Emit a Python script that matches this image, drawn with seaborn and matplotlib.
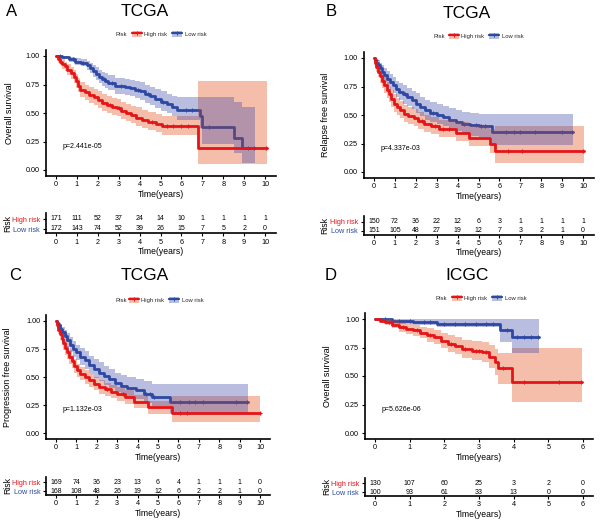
import numpy as np
import matplotlib
matplotlib.use("Agg")
import matplotlib.pyplot as plt
from matplotlib.patches import Patch
from matplotlib.lines import Line2D
import seaborn as sns

sns.set_theme(style="ticks")
plt.rcParams['font.family'] = ['Liberation Sans', 'DejaVu Sans']

W, H = 600, 522
RED = "#E61419"
BLUE = "#284BA0"
RED_FILL = "#E2450C"
BLUE_FILL = "#3745A9"

# ---------------- data ----------------
# Panel A: TCGA overall survival
a_high_t = [0, 0.08, 0.18, 0.3, 0.43, 0.55, 0.7, 0.85, 0.95, 1.05, 1.15, 1.4, 1.6, 1.8, 2.0,
            2.2, 2.45, 2.7, 2.9, 3.1, 3.35, 3.6, 3.85, 4.1, 4.4, 4.8, 5.06, 6.8]
a_high_s = [1.0, 0.97, 0.95, 0.93, 0.91, 0.88, 0.85, 0.82, 0.78, 0.74, 0.70, 0.68, 0.66, 0.64, 0.61,
            0.59, 0.57, 0.55, 0.54, 0.52, 0.50, 0.48, 0.46, 0.44, 0.42, 0.40, 0.385, 0.19]
a_high_up = [1.0, 1.0, 0.98, 0.97, 0.95, 0.93, 0.90, 0.88, 0.84, 0.81, 0.77, 0.75, 0.73, 0.71, 0.69,
             0.67, 0.65, 0.63, 0.62, 0.60, 0.58, 0.56, 0.55, 0.53, 0.51, 0.49, 0.47, 0.78]
a_high_lo = [1.0, 0.94, 0.92, 0.89, 0.87, 0.83, 0.80, 0.76, 0.72, 0.68, 0.64, 0.61, 0.59, 0.57, 0.54,
             0.52, 0.50, 0.48, 0.47, 0.45, 0.43, 0.41, 0.39, 0.37, 0.35, 0.33, 0.31, 0.05]
a_high_end = 10.08
a_high_cens = [2.6, 3.0, 4.6, 5.3, 5.6, 6.0, 6.3, 10.05]
a_low_t = [0, 0.3, 0.6, 0.9, 1.2, 1.5, 1.62, 1.75, 1.9, 2.05, 2.2, 2.35, 2.5, 2.8, 3.3, 3.55, 3.8,
           4.0, 4.25, 4.5, 4.75, 5.0, 5.3, 5.55, 5.8, 6.9, 7.0, 8.5, 8.9]
a_low_s = [1.0, 0.99, 0.97, 0.95, 0.94, 0.92, 0.895, 0.87, 0.845, 0.82, 0.80, 0.78, 0.76, 0.74, 0.73,
           0.72, 0.705, 0.69, 0.67, 0.65, 0.62, 0.60, 0.58, 0.555, 0.53, 0.47, 0.375, 0.28, 0.19]
a_low_up = [1.0, 1.0, 0.99, 0.98, 0.97, 0.96, 0.94, 0.92, 0.90, 0.88, 0.86, 0.85, 0.83, 0.81, 0.80,
            0.79, 0.78, 0.77, 0.75, 0.73, 0.71, 0.69, 0.67, 0.65, 0.64, 0.64, 0.64, 0.60, 0.55]
a_low_lo = [1.0, 0.98, 0.95, 0.92, 0.91, 0.88, 0.85, 0.82, 0.79, 0.76, 0.74, 0.72, 0.70, 0.67, 0.66,
            0.65, 0.63, 0.61, 0.59, 0.57, 0.54, 0.52, 0.50, 0.47, 0.44, 0.37, 0.23, 0.15, 0.06]
a_low_end = 9.5
a_low_cens = [0.2, 0.8, 1.3, 2.3, 2.7, 3.1, 3.9, 4.4, 5.1, 6.2, 6.5, 7.3, 9.2, 9.45]
a_risk_high = [171, 111, 52, 37, 24, 14, 10, 1, 1, 1, 1]
a_risk_low = [172, 143, 74, 52, 39, 26, 15, 7, 5, 2, 0]

# Panel B: TCGA relapse free survival
b_high_t = [0, 0.05, 0.12, 0.2, 0.3, 0.4, 0.5, 0.6, 0.7, 0.8, 0.95, 1.1, 1.25, 1.45, 1.65, 1.9,
            2.1, 2.4, 2.75, 3.1, 3.9, 4.55, 5.55, 5.8]
b_high_s = [1.0, 0.96, 0.92, 0.88, 0.84, 0.80, 0.76, 0.72, 0.68, 0.64, 0.60, 0.57, 0.54, 0.51, 0.49,
            0.47, 0.45, 0.42, 0.40, 0.38, 0.34, 0.30, 0.25, 0.18]
b_high_up = [1.0, 0.99, 0.96, 0.93, 0.90, 0.86, 0.83, 0.79, 0.75, 0.72, 0.68, 0.65, 0.62, 0.59, 0.57,
             0.55, 0.53, 0.50, 0.48, 0.46, 0.44, 0.40, 0.38, 0.40]
b_high_lo = [1.0, 0.93, 0.88, 0.83, 0.78, 0.74, 0.69, 0.65, 0.61, 0.57, 0.53, 0.50, 0.47, 0.44, 0.42,
             0.40, 0.38, 0.35, 0.33, 0.31, 0.27, 0.23, 0.17, 0.08]
b_high_end = 10.05
b_high_cens = [2.3, 2.9, 3.3, 3.6, 6.4, 7.1, 10.0]
b_low_t = [0, 0.05, 0.12, 0.2, 0.3, 0.4, 0.5, 0.62, 0.75, 0.9, 1.05, 1.2, 1.4, 1.6, 1.8, 2.0, 2.2,
           2.45, 2.7, 3.0, 3.3, 3.6, 3.9, 4.2, 4.6, 5.0, 5.65]
b_low_s = [1.0, 0.98, 0.96, 0.94, 0.91, 0.88, 0.85, 0.82, 0.79, 0.76, 0.73, 0.70, 0.68, 0.66, 0.63,
           0.60, 0.57, 0.54, 0.52, 0.50, 0.48, 0.46, 0.44, 0.42, 0.41, 0.40, 0.35]
b_low_up = [1.0, 1.0, 0.99, 0.98, 0.96, 0.94, 0.91, 0.89, 0.86, 0.83, 0.80, 0.78, 0.76, 0.74, 0.71,
            0.69, 0.66, 0.63, 0.61, 0.60, 0.58, 0.56, 0.54, 0.53, 0.52, 0.51, 0.51]
b_low_lo = [1.0, 0.96, 0.93, 0.90, 0.86, 0.82, 0.79, 0.75, 0.72, 0.69, 0.66, 0.63, 0.60, 0.58, 0.55,
            0.52, 0.49, 0.46, 0.44, 0.42, 0.40, 0.38, 0.36, 0.33, 0.32, 0.31, 0.24]
b_low_end = 9.5
b_low_cens = [0.1, 1.5, 2.8, 4.3, 4.9, 5.1, 5.3, 6.3, 6.7, 7.0, 7.7, 9.0, 9.45]
b_risk_high = [150, 72, 36, 22, 12, 6, 3, 1, 1, 1, 1]
b_risk_low = [151, 105, 48, 27, 19, 12, 7, 3, 2, 1, 0]

# Panel C: TCGA progression free survival
c_high_t = [0, 0.05, 0.12, 0.2, 0.28, 0.36, 0.45, 0.55, 0.65, 0.77, 0.9, 1.05, 1.2, 1.4, 1.6, 1.85,
            2.1, 2.4, 2.7, 3.0, 3.4, 3.8, 4.5, 5.7]
c_high_s = [1.0, 0.96, 0.92, 0.88, 0.84, 0.80, 0.76, 0.72, 0.68, 0.64, 0.60, 0.56, 0.53, 0.50, 0.47,
            0.44, 0.41, 0.39, 0.37, 0.35, 0.32, 0.28, 0.23, 0.18]
c_high_up = [1.0, 0.99, 0.96, 0.93, 0.89, 0.86, 0.82, 0.78, 0.74, 0.70, 0.66, 0.62, 0.59, 0.56, 0.53,
             0.50, 0.47, 0.45, 0.43, 0.41, 0.38, 0.34, 0.29, 0.33]
c_high_lo = [1.0, 0.93, 0.88, 0.83, 0.79, 0.74, 0.70, 0.66, 0.62, 0.58, 0.54, 0.50, 0.47, 0.44, 0.41,
             0.38, 0.35, 0.33, 0.31, 0.29, 0.26, 0.22, 0.17, 0.10]
c_high_end = 10.0
c_high_cens = [2.5, 3.3, 6.1, 6.4, 10.0]
c_low_t = [0, 0.05, 0.12, 0.2, 0.3, 0.42, 0.55, 0.7, 0.85, 1.0, 1.2, 1.4, 1.6, 1.85, 2.1, 2.35, 2.6,
           2.9, 3.2, 3.5, 3.9, 4.3, 4.7, 5.6]
c_low_s = [1.0, 0.98, 0.96, 0.93, 0.90, 0.87, 0.83, 0.79, 0.75, 0.72, 0.68, 0.65, 0.61, 0.57, 0.54,
           0.51, 0.48, 0.45, 0.42, 0.40, 0.38, 0.35, 0.32, 0.28]
c_low_up = [1.0, 1.0, 0.99, 0.97, 0.95, 0.92, 0.89, 0.86, 0.82, 0.79, 0.76, 0.73, 0.69, 0.66, 0.63,
            0.60, 0.57, 0.54, 0.52, 0.50, 0.48, 0.46, 0.44, 0.44]
c_low_lo = [1.0, 0.96, 0.93, 0.89, 0.85, 0.81, 0.77, 0.72, 0.68, 0.65, 0.61, 0.57, 0.53, 0.49, 0.46,
            0.43, 0.40, 0.37, 0.34, 0.32, 0.30, 0.27, 0.24, 0.18]
c_low_end = 9.4
c_low_cens = [0.1, 4.4, 4.6, 4.8, 6.1, 6.5, 6.8, 7.2, 8.8, 9.35]
c_risk_high = [169, 74, 36, 23, 13, 6, 4, 1, 1, 1, 0]
c_risk_low = [168, 108, 48, 26, 19, 12, 6, 2, 2, 1, 0]

# Panel D: ICGC overall survival
d_high_t = [0, 0.15, 0.3, 0.5, 0.7, 0.9, 1.1, 1.3, 1.5, 1.7, 1.9, 2.1, 2.3, 2.5, 2.8, 3.1, 3.3,
            3.45, 3.55, 3.96]
d_high_s = [1.0, 0.985, 0.97, 0.95, 0.93, 0.91, 0.90, 0.88, 0.86, 0.84, 0.81, 0.78, 0.76, 0.74,
            0.72, 0.71, 0.67, 0.62, 0.57, 0.45]
d_high_up = [1.0, 1.0, 1.0, 0.99, 0.97, 0.96, 0.95, 0.93, 0.92, 0.90, 0.88, 0.86, 0.84, 0.82,
             0.81, 0.80, 0.77, 0.74, 0.70, 0.75]
d_high_lo = [1.0, 0.97, 0.95, 0.92, 0.89, 0.87, 0.85, 0.83, 0.80, 0.78, 0.75, 0.71, 0.69, 0.66,
             0.64, 0.62, 0.57, 0.51, 0.43, 0.27]
d_high_end = 5.98
d_high_cens = [0.4, 0.8, 1.2, 1.6, 2.2, 2.6, 2.9, 3.0, 3.2, 3.7, 4.3, 5.3, 5.95]
d_low_t = [0, 0.5, 1.1, 1.8, 3.62, 3.96]
d_low_s = [1.0, 0.985, 0.975, 0.96, 0.905, 0.84]
d_low_up = [1.0, 1.0, 1.0, 1.0, 1.0, 1.0]
d_low_lo = [1.0, 0.96, 0.95, 0.93, 0.80, 0.70]
d_low_end = 4.73
d_low_cens = [0.3, 0.7, 1.0, 1.4, 1.6, 2.0, 2.3, 2.6, 2.9, 3.2, 3.4, 3.8, 4.1, 4.3, 4.5, 4.7]
d_risk_high = [130, 107, 60, 25, 3, 2, 0]
d_risk_low = [100, 93, 61, 33, 13, 0, 0]

# ---------------- layout (pixels) ----------------
panels = [
    dict(letter="A", title="TCGA", ylabel="Overall survival", p="p=2.441e-05", xmax=10,
         high=(a_high_t, a_high_s, a_high_lo, a_high_up, a_high_end, a_high_cens),
         low=(a_low_t, a_low_s, a_low_lo, a_low_up, a_low_end, a_low_cens),
         risk=(a_risk_high, a_risk_low),
         km=(45.5, 50.3, 275.5, 175.7), tab=(45.5, 213, 275.5, 233),
         letter_xy=(12, 12), title_xy=(145, 12), leg_y=34, risk_x=115, leg_x=169,
         ylab_x=10, tylab_x=8),
    dict(letter="B", title="TCGA", ylabel="Relapse free survival", p="p=4.337e-03", xmax=10,
         high=(b_high_t, b_high_s, b_high_lo, b_high_up, b_high_end, b_high_cens),
         low=(b_low_t, b_low_s, b_low_lo, b_low_up, b_low_end, b_low_cens),
         risk=(b_risk_high, b_risk_low),
         km=(363.5, 52.3, 593.5, 177.7), tab=(363.5, 216, 593.5, 234.5),
         letter_xy=(331, 12), title_xy=(467, 13), leg_y=36, risk_x=433, leg_x=486,
         ylab_x=325, tylab_x=325),
    dict(letter="C", title="TCGA", ylabel="Progression free survival", p="p=1.132e-03", xmax=10,
         high=(c_high_t, c_high_s, c_high_lo, c_high_up, c_high_end, c_high_cens),
         low=(c_low_t, c_low_s, c_low_lo, c_low_up, c_low_end, c_low_cens),
         risk=(c_risk_high, c_risk_low),
         km=(45.8, 315.4, 270.2, 438.6), tab=(45.8, 476.6, 270.2, 494.6),
         letter_xy=(15, 275), title_xy=(145, 275), leg_y=300, risk_x=115, leg_x=166,
         ylab_x=8, tylab_x=8),
    dict(letter="D", title="ICGC", ylabel="Overall survival", p="p=5.626e-06", xmax=6,
         high=(d_high_t, d_high_s, d_high_lo, d_high_up, d_high_end, d_high_cens),
         low=(d_low_t, d_low_s, d_low_lo, d_low_up, d_low_end, d_low_cens),
         risk=(d_risk_high, d_risk_low),
         km=(364.6, 313.3, 593.4, 438.7), tab=(364.6, 477.6, 593.4, 495.6),
         letter_xy=(331, 275), title_xy=(467, 275), leg_y=298, risk_x=435, leg_x=489,
         ylab_x=328, tylab_x=327),
]


def rect(box):
    left, top, right, bottom = box
    return [left / W, 1 - bottom / H, (right - left) / W, (bottom - top) / H]


def fx(x):
    return x / W


def fy(y):
    return 1 - y / H


def style_axis(ax):
    sns.despine(ax=ax)
    for s in ("left", "bottom"):
        ax.spines[s].set_linewidth(1.2)
        ax.spines[s].set_color("black")
    ax.tick_params(axis="both", length=2.5, width=0.8, color="black",
                   labelsize=5.2, labelcolor="black", pad=1.5)
    ax.set_facecolor("white")


def step_curve(curve):
    t, s, lo, up, end, cens = curve
    xs = list(t) + [end]
    return xs, list(s) + [s[-1]], list(lo) + [lo[-1]], list(up) + [up[-1]]


def censor_points(curve):
    t, s, lo, up, end, cens = curve
    idx = np.searchsorted(t, cens, side="right") - 1
    return cens, [s[i] for i in idx]


fig = plt.figure(figsize=(6, 5.22), dpi=100)

for p in panels:
    xmax = p["xmax"]
    ticks = list(range(0, xmax + 1))
    ax = fig.add_axes(rect(p["km"]))
    hx, hs, hlo, hup = step_curve(p["high"])
    lx, ls, llo, lup = step_curve(p["low"])

    # low-risk line, ribbons, high-risk line
    sns.lineplot(x=lx, y=ls, ax=ax, color=BLUE, linewidth=2.0, drawstyle="steps-post",
                 estimator=None, zorder=2)
    cx, cy = censor_points(p["low"])
    ax.plot(cx, cy, ls="none", marker="+", ms=3.5, mew=0.8, color=BLUE, zorder=2)
    ax.fill_between(hx, hlo, hup, step="post", color=RED_FILL, alpha=0.35, lw=0, zorder=3)
    ax.fill_between(lx, llo, lup, step="post", color=BLUE_FILL, alpha=0.35, lw=0, zorder=4)
    sns.lineplot(x=hx, y=hs, ax=ax, color=RED, linewidth=2.0, drawstyle="steps-post",
                 estimator=None, zorder=5)
    cx, cy = censor_points(p["high"])
    ax.plot(cx, cy, ls="none", marker="+", ms=3.5, mew=0.8, color=RED, zorder=5)

    ax.set_xlim(-0.05 * xmax, 1.05 * xmax)
    ax.set_ylim(-0.05, 1.05)
    ax.set_xticks(ticks)
    ax.set_yticks([0, 0.25, 0.5, 0.75, 1.0])
    ax.set_yticklabels(["0.00", "0.25", "0.50", "0.75", "1.00"])
    style_axis(ax)
    ax.set_xlabel("Time(years)", fontsize=6.2, labelpad=1, color="black")
    ax.set_ylabel("")
    ax.text(0.03 * xmax, 0.21, p["p"], fontsize=5, ha="left", va="center", color="black")

    km = p["km"]
    fig.text(fx(p["ylab_x"]), fy((km[1] + km[3]) / 2), p["ylabel"], rotation=90,
             ha="center", va="center", fontsize=6.5, color="black")

    # titles
    fig.text(fx(p["letter_xy"][0]), fy(p["letter_xy"][1]), p["letter"], fontsize=12,
             ha="center", va="center", color="black")
    fig.text(fx(p["title_xy"][0]), fy(p["title_xy"][1]), p["title"], fontsize=12.5,
             ha="center", va="center", color="black")

    # legend
    fig.text(fx(p["risk_x"]), fy(p["leg_y"]), "Risk", fontsize=4.2, ha="left", va="center")
    handles = [
        (Patch(facecolor=RED_FILL, alpha=0.35, lw=0),
         Line2D([], [], color=RED, lw=1.6, marker="+", ms=3, mew=0.7)),
        (Patch(facecolor=BLUE_FILL, alpha=0.35, lw=0),
         Line2D([], [], color=BLUE, lw=1.6, marker="+", ms=3, mew=0.7)),
    ]
    fig.legend(handles, ["High risk", "Low risk"], loc="center",
               bbox_to_anchor=(fx(p["leg_x"]), fy(p["leg_y"])), ncol=2, frameon=False,
               fontsize=4.2, handlelength=1.7, handleheight=1.3, handletextpad=0.4,
               columnspacing=0.9, borderpad=0, borderaxespad=0)

    # risk table
    tab = fig.add_axes(rect(p["tab"]))
    hr, lr = p["risk"]
    for t, n in zip(ticks, hr):
        tab.text(t, 1, str(n), fontsize=5, ha="center", va="center", color="black")
    for t, n in zip(ticks, lr):
        tab.text(t, 0, str(n), fontsize=5, ha="center", va="center", color="black")
    tab.set_xlim(-0.05 * xmax, 1.05 * xmax)
    tab.set_ylim(-0.4, 1.6)
    tab.set_xticks(ticks)
    tab.set_yticks([1, 0])
    tab.set_yticklabels(["High risk", "Low risk"])
    style_axis(tab)
    tab.tick_params(axis="y", labelsize=5.2)
    tab.get_yticklabels()[0].set_color(RED)
    tab.get_yticklabels()[1].set_color(BLUE)
    tab.set_xlabel("Time(years)", fontsize=6.2, labelpad=1, color="black")
    tb = p["tab"]
    fig.text(fx(p["tylab_x"]), fy((tb[1] + tb[3]) / 2), "Risk", rotation=90,
             ha="center", va="center", fontsize=6.2, color="black")

fig.savefig("out.png", dpi=100, facecolor="white")
